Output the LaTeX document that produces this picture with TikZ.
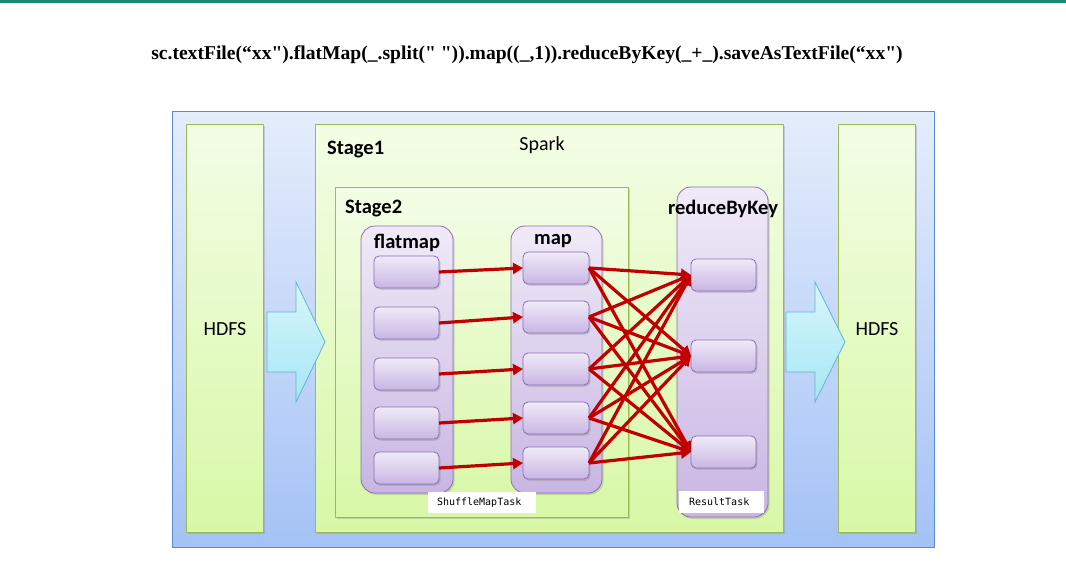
\documentclass[tikz,border=0pt]{standalone}
\usepackage{fontspec}
\setmainfont{Carlito}
\newfontfamily\titlefont{Liberation Serif}
\newfontfamily\codefont{DejaVu Sans Mono}
\usetikzlibrary{arrows.meta,shadows}
\definecolor{lineteal}{HTML}{1B8C72}
\definecolor{outerT}{HTML}{E5EDFC}
\definecolor{outerB}{HTML}{A4C2F6}
\definecolor{outerD}{HTML}{5A8AD0}
\definecolor{grnT}{HTML}{F3FDE6}
\definecolor{grnB}{HTML}{D8F8A6}
\definecolor{grnD}{HTML}{9BBB59}
\definecolor{purT}{HTML}{F0EAF8}
\definecolor{purB}{HTML}{C8B6E3}
\definecolor{purD}{HTML}{8C6FB0}
\definecolor{cyT}{HTML}{D8F6FC}
\definecolor{cyB}{HTML}{A6E6F4}
\definecolor{cyD}{HTML}{5FB6CC}
\definecolor{redA}{HTML}{C00000}
\tikzset{
  sh/.style={drop shadow={opacity=0.3,shadow xshift=1.5pt,shadow yshift=-1.8pt}},
  outerbox/.style={draw=outerD,line width=0.8pt,top color=outerT,bottom color=outerB,inner sep=0,outer sep=0,anchor=north west},
  gbox/.style={draw=grnD,line width=0.8pt,top color=grnT,bottom color=grnB,inner sep=0,outer sep=0,anchor=north west,sh},
  pcont/.style={draw=purD,line width=0.8pt,top color=purT,bottom color=purB,rounded corners=14pt,inner sep=0,outer sep=0,anchor=north west,sh},
  pbox/.style={draw=purD,line width=0.8pt,top color=purT,bottom color=purB,rounded corners=5pt,inner sep=0,outer sep=0,anchor=north west,sh},
  blockarrow/.style={draw=cyD,line width=0.8pt,top color=cyT,bottom color=cyB},
  redarrow/.style={draw=redA,line width=3.2pt,-{Triangle[length=10pt,width=11pt]}},
  lbl/.style={font=\fontsize{20.5}{24}\selectfont\bfseries,inner sep=0},
  plain/.style={font=\fontsize{20}{24}\selectfont,inner sep=0},
  tag/.style={fill=white,inner sep=0,font=\codefont\fontsize{10}{12}\selectfont},
}
\begin{document}
\begin{tikzpicture}[x=1pt,y=-1pt]
\useasboundingbox[fill=white] (0,0) rectangle (1066,562);
\fill[lineteal] (0,0) rectangle (1066,2.5);
\node[font=\titlefont\bfseries\fontsize{19.6}{22}\selectfont,inner sep=0] (title) at (527,55) {sc.textFile(“xx").flatMap(\_.split(" ")).map((\_,1)).reduceByKey(\_+\_).saveAsTextFile(“xx")};
% outer
\node[outerbox,minimum width=762pt,minimum height=436pt] (outer) at (172,111) {};
\node[gbox,minimum width=77pt,minimum height=408pt] (hdfsL) at (186,124) {};
\node[gbox,minimum width=77pt,minimum height=408pt] (hdfsR) at (838,124) {};
\node[plain] (hdfsLt) at (225,329) {HDFS};
\node[plain] (hdfsRt) at (877,329) {HDFS};
\node[gbox,minimum width=468pt,minimum height=408pt] (stage1) at (315,124) {};
\node[lbl,anchor=west] (stage1t) at (327,150) {Stage1};
\node[plain] (spark) at (542,145) {Spark};
\node[gbox,minimum width=293pt,minimum height=330pt] (stage2) at (335,187) {};
\node[lbl,anchor=west] (stage2t) at (345,209) {Stage2};
% block arrows
\draw[blockarrow] (267,312) -- (296,312) -- (296,282) -- (325,342) -- (296,402) -- (296,372) -- (267,372) -- cycle;
\draw[blockarrow] (786,312) -- (815,312) -- (815,282) -- (845,342) -- (815,402) -- (815,372) -- (786,372) -- cycle;
% containers
\node[pcont,minimum width=92pt,minimum height=267pt] (fcont) at (361,226) {};
\node[lbl] (fcontt) at (407,243) {flatmap};
\node[pcont,minimum width=91pt,minimum height=267pt] (mcont) at (511,226) {};
\node[lbl] (mcontt) at (553,241) {map};
\node[pcont,minimum width=91pt,minimum height=330pt] (rcont) at (677,187) {};
\node[lbl] (rcontt) at (723,209) {reduceByKey};
% boxes
\foreach \i/\y in {1/256,2/307,3/358,4/407,5/452}
  \node[pbox,minimum width=65pt,minimum height=32pt] (f\i) at (374,\y) {};
\foreach \i/\y in {1/252,2/301,3/353,4/402,5/447}
  \node[pbox,minimum width=66pt,minimum height=32pt] (m\i) at (523,\y) {};
\foreach \j/\y in {1/259,2/340,3/436}
  \node[pbox,minimum width=65pt,minimum height=32pt] (r\j) at (691,\y) {};
% tags
\node[tag,minimum width=108pt,minimum height=21pt,anchor=north west] (smt) at (428,492) {\hspace*{-6pt}ShuffleMapTask};
\node[tag,minimum width=85pt,minimum height=22pt,anchor=north west] (rt) at (679,491) {\hspace*{-5pt}ResultTask};
% red arrows
\foreach \i in {1,...,5}
  \draw[redarrow] (f\i.east) -- (m\i.west);
\foreach \i in {1,...,5}
  \foreach \j in {1,2,3}
    \draw[redarrow] (m\i.east) -- (r\j.west);
\end{tikzpicture}
\end{document}
